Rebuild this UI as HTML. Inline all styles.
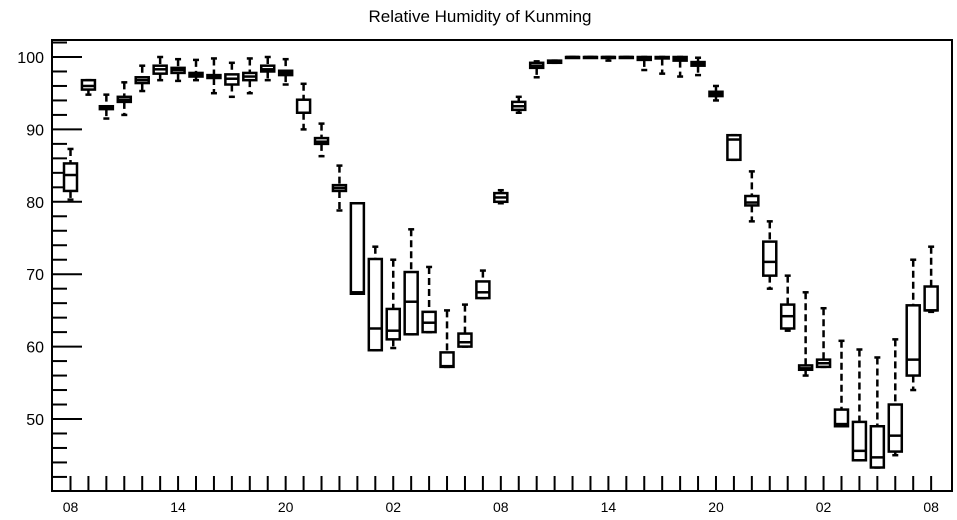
<!DOCTYPE html>
<html><head><meta charset="utf-8"><style>
body{margin:0;background:#fff;}
svg{display:block;font-family:"Liberation Sans",Arial,sans-serif;}
</style></head><body>
<svg id="chart" width="957" height="520" viewBox="0 0 957 520">
<text x="480" y="22" font-size="17" text-anchor="middle">Relative Humidity of Kunming</text>
<rect x="52" y="40" width="900" height="451" fill="none" stroke="#000" stroke-width="2"/>
<g id="axes"></g><g id="boxes"></g>
</svg>
<script>
const hourLabels=["08","14","20","02","08","14","20","02","08"];
const yTicks=[50,60,70,80,90,100];
// [q1, median, q3, low whisker, high whisker]
const q1=[81.5,95.5,92.8,93.8,96.4,97.7,97.8,97.3,97.1,96.2,96.8,98.0,97.5,92.3,88.0,81.5,67.3,59.5,61.0,61.7,62.0,57.2,60.0,66.7,80.0,92.7,98.5,99.2,99.9,99.9,99.9,99.9,99.6,99.8,99.5,98.8,94.6,85.8,79.5,69.8,62.5,56.8,57.2,49.0,44.3,43.3,45.5,56.0,65.0];
const med=[83.7,96.0,93.0,94.1,96.8,98.3,98.2,97.6,97.3,97.0,97.3,98.3,97.8,92.3,88.3,81.9,67.5,62.5,62.2,66.2,63.3,57.3,60.6,67.5,80.6,93.2,98.8,99.3,100,100,100,100,99.9,99.9,99.8,99.0,94.9,88.6,79.9,71.7,64.2,57.0,57.7,49.3,45.6,44.7,47.7,58.2,65.0];
const q3=[85.3,96.8,93.2,94.5,97.2,98.8,98.5,97.8,97.5,97.6,97.8,98.8,98.1,94.1,88.8,82.3,79.8,72.1,65.2,70.3,64.8,59.2,61.8,69.0,81.2,93.8,99.2,99.5,100,100,100,100,100,100,100,99.3,95.2,89.2,80.8,74.5,65.8,57.4,58.2,51.3,49.6,49.0,52.0,65.7,68.3];
const lo=[80.3,94.8,91.5,92.0,95.3,96.8,96.7,96.8,95.0,94.5,95.0,96.8,96.2,90.0,86.3,78.8,67.3,59.5,59.8,61.7,62.0,57.2,60.0,66.7,79.8,92.3,97.2,99.2,99.9,99.9,99.5,99.9,98.2,97.7,97.3,97.5,94.0,85.8,77.3,68.0,62.2,56.0,57.2,49.0,44.3,43.3,45.0,54.0,64.8];
const hi=[87.3,96.8,94.8,96.5,98.8,100,99.7,99.6,99.8,99.2,99.8,100,99.7,96.3,90.8,85.0,79.8,73.8,72.0,76.2,71.0,65.0,65.8,70.5,81.6,94.5,99.4,99.5,100,100,100,100,100,100,100,99.9,96.0,89.2,84.2,77.3,69.8,67.5,65.3,60.8,59.6,58.5,61.0,72.0,73.8];

const NS="http://www.w3.org/2000/svg";
const X0=52,X1=952,Y0=40,Y1=491;
function xs(i){return 70.5+i*17.93;}
function ys(v){return 57+(100-v)*7.24;}
function mk(tag,attrs,parent){const e=document.createElementNS(NS,tag);for(const k in attrs)e.setAttribute(k,attrs[k]);parent.appendChild(e);return e;}
const axes=document.getElementById('axes'),boxes=document.getElementById('boxes');
// y ticks
for(let v=42;v<=102;v+=2){
  const y=ys(v); if(y<Y0||y>Y1)continue;
  const major=v%10===0;
  const t=mk('line',{x1:X0,x2:X0+(major?30:15),y1:y,y2:y,stroke:'#000','stroke-width':2},axes);
  
  
}
yTicks.forEach(v=>{
  const t=mk('text',{x:44,y:ys(v)+6,'font-size':16,'text-anchor':'end'},axes);
  t.textContent=v;
  
  
});
for(let i=0;i<q1.length;i++){
  const t=mk('line',{x1:xs(i),x2:xs(i),y1:Y1,y2:Y1-15,stroke:'#000','stroke-width':2},axes);
  
  
}
hourLabels.forEach((s,k)=>{
  const t=mk('text',{x:xs(k*6),y:512,'font-size':14,'text-anchor':'middle'},axes);
  t.textContent=s;
  
  
});
for(let i=0;i<q1.length;i++){
  const g=mk('g',{},boxes);
  
  
  const x=xs(i),w=13;
  const yt=ys(q3[i]),yb=ys(q1[i]);
  mk('line',{x1:x,x2:x,y1:ys(hi[i]),y2:yt,stroke:'#000','stroke-width':2.5,'stroke-dasharray':'7,4'},g);
  mk('line',{x1:x,x2:x,y1:yb,y2:ys(lo[i]),stroke:'#000','stroke-width':2.5,'stroke-dasharray':'7,4'},g);
  mk('line',{x1:x-3,x2:x+3,y1:ys(hi[i]),y2:ys(hi[i]),stroke:'#000','stroke-width':2.5},g);
  mk('line',{x1:x-3,x2:x+3,y1:ys(lo[i]),y2:ys(lo[i]),stroke:'#000','stroke-width':2.5},g);
  mk('rect',{x:x-w/2,y:yt,width:w,height:Math.max(yb-yt,1),fill:'#fff',stroke:'#000','stroke-width':2.5},g);
  mk('line',{x1:x-w/2,x2:x+w/2,y1:ys(med[i]),y2:ys(med[i]),stroke:'#000','stroke-width':2.5},g);
}
</script>
</body></html>
